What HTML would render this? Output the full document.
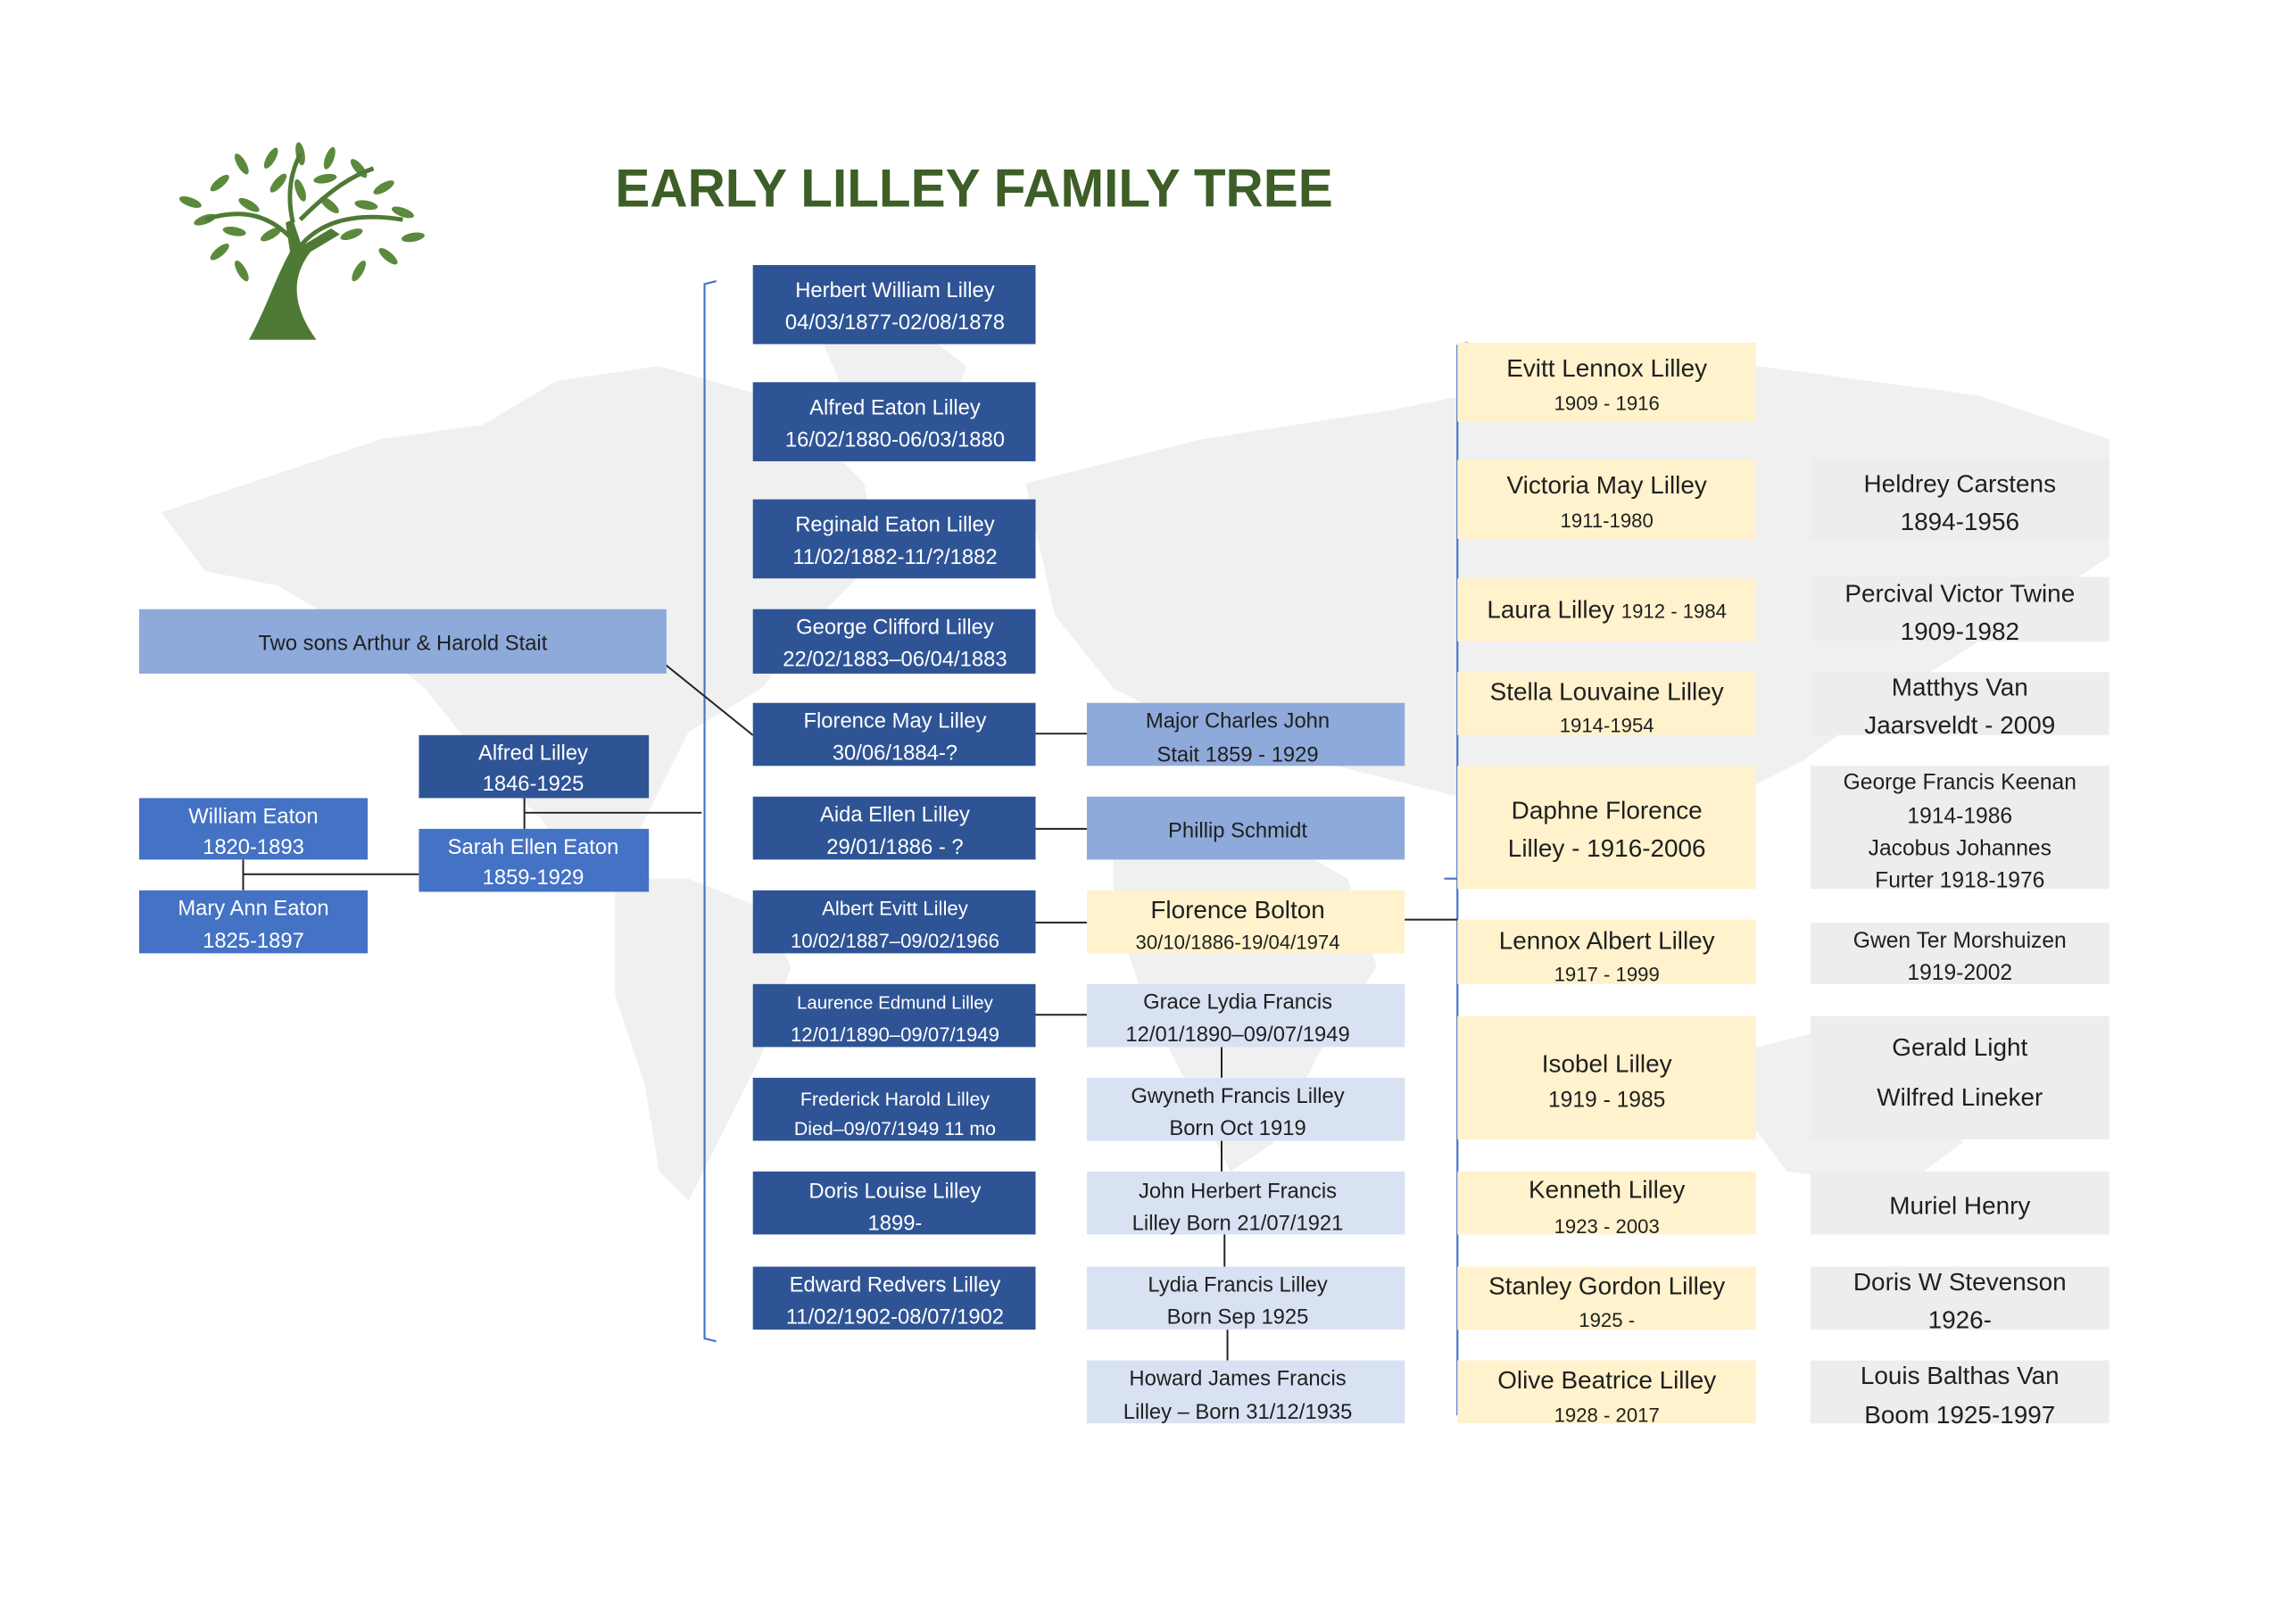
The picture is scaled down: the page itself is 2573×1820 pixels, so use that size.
<!DOCTYPE html>
<html><head><meta charset="utf-8"><style>
html,body{margin:0;padding:0;background:#fff;}
svg{display:block;}
text{font-family:"Liberation Sans",sans-serif;text-anchor:middle;}
.w{fill:#fff;font-size:14.5px;}
.d{fill:#1f1f1f;font-size:14.5px;}
.y{fill:#1f1f1f;font-size:17px;}
.ys{fill:#1f1f1f;font-size:13.5px;}
.g{fill:#1f1f1f;font-size:17px;}
.gs{fill:#1f1f1f;font-size:15px;}
</style></head><body>
<svg width="2573" height="1820" viewBox="0 0 1567.5 1109" preserveAspectRatio="none" xmlns="http://www.w3.org/2000/svg">
<rect width="1568" height="1109" fill="#fff"/>
<!-- map background -->
<g fill="#f0f0f0">
<path d="M110 350 L200 320 L260 300 L330 290 L380 260 L450 250 L520 270 L560 300 L590 330 L600 380 L560 420 L520 470 L470 500 L450 540 L430 580 L400 600 L370 560 L330 520 L290 470 L240 430 L190 400 L140 390 Z"/>
<path d="M420 600 L470 600 L520 620 L540 660 L520 720 L490 780 L470 820 L450 800 L440 740 L420 680 Z"/>
<path d="M560 230 L620 220 L660 250 L640 300 L590 300 Z"/>
<path d="M700 330 L820 300 L950 280 L1050 260 L1200 250 L1350 270 L1440 300 L1440 380 L1380 420 L1300 470 L1230 520 L1150 560 L1060 560 L980 540 L900 520 L820 500 L760 470 L720 420 Z"/>
<path d="M760 560 L850 560 L920 600 L940 660 L900 720 L870 780 L840 800 L810 740 L780 680 L760 620 Z"/>
<path d="M1180 720 L1260 700 L1320 720 L1340 780 L1300 810 L1220 800 L1190 760 Z"/>
</g>
<!-- tree -->
<g fill="#4f7a35">
<path d="M170 232 L216 232 C200 210 198 190 212 172 L232 160 L226 156 L206 168 L200 150 L195 152 L198 172 C188 190 182 210 170 232 Z"/>
</g>
<g fill="#5b8a3c">
<ellipse cx="140" cy="150" rx="8" ry="3" transform="rotate(-20 140 150)"/>
<ellipse cx="130" cy="138" rx="8" ry="3" transform="rotate(20 130 138)"/>
<ellipse cx="150" cy="125" rx="8" ry="3" transform="rotate(-40 150 125)"/>
<ellipse cx="165" cy="112" rx="8" ry="3" transform="rotate(60 165 112)"/>
<ellipse cx="185" cy="108" rx="8" ry="3" transform="rotate(-60 185 108)"/>
<ellipse cx="205" cy="105" rx="8" ry="3" transform="rotate(80 205 105)"/>
<ellipse cx="225" cy="108" rx="8" ry="3" transform="rotate(-70 225 108)"/>
<ellipse cx="245" cy="115" rx="8" ry="3" transform="rotate(50 245 115)"/>
<ellipse cx="262" cy="128" rx="8" ry="3" transform="rotate(-30 262 128)"/>
<ellipse cx="275" cy="145" rx="8" ry="3" transform="rotate(20 275 145)"/>
<ellipse cx="282" cy="162" rx="8" ry="3" transform="rotate(-10 282 162)"/>
<ellipse cx="265" cy="175" rx="8" ry="3" transform="rotate(40 265 175)"/>
<ellipse cx="150" cy="172" rx="8" ry="3" transform="rotate(-40 150 172)"/>
<ellipse cx="165" cy="185" rx="8" ry="3" transform="rotate(60 165 185)"/>
<ellipse cx="245" cy="185" rx="8" ry="3" transform="rotate(-60 245 185)"/>
<ellipse cx="170" cy="140" rx="8" ry="3" transform="rotate(30 170 140)"/>
<ellipse cx="185" cy="160" rx="8" ry="3" transform="rotate(-30 185 160)"/>
<ellipse cx="225" cy="140" rx="8" ry="3" transform="rotate(40 225 140)"/>
<ellipse cx="240" cy="160" rx="8" ry="3" transform="rotate(-20 240 160)"/>
<ellipse cx="205" cy="130" rx="8" ry="3" transform="rotate(70 205 130)"/>
<ellipse cx="190" cy="125" rx="8" ry="3" transform="rotate(-50 190 125)"/>
<ellipse cx="250" cy="140" rx="8" ry="3" transform="rotate(10 250 140)"/>
<ellipse cx="160" cy="158" rx="8" ry="3" transform="rotate(10 160 158)"/>
<ellipse cx="222" cy="122" rx="8" ry="3" transform="rotate(-10 222 122)"/>
</g>
<g stroke="#4f7a35" stroke-width="3" fill="none">
<path d="M205 170 C190 150 170 140 140 150 M205 168 C220 150 245 145 275 150 M200 152 C195 130 200 115 205 105 M205 150 C225 130 240 120 255 115"/>
</g>
<!-- title -->
<text x="665" y="141" textLength="490" lengthAdjust="spacingAndGlyphs" style="font-size:37px;font-weight:bold;fill:#3d5e27;">EARLY LILLEY FAMILY TREE</text>

<!-- connectors -->
<g stroke="#4472c4" stroke-width="1.3" fill="none">
<path d="M489 192 L481 194 L481 914 L489 916"/>
<path d="M1002 234 L995 236 L995 966 L1002 968"/>
<path d="M986 600 L995 600"/>
</g>
<g stroke="#222" stroke-width="1.2" fill="none">
<path d="M447 448 L514 502"/>
<path d="M358 545 L358 566 M358 555 L479 555"/>
<path d="M166 587 L166 608 M166 597 L286 597"/>
<path d="M707 501 L742 501 M707 566 L742 566 M707 630 L742 630 M707 693 L742 693 M959 628 L995 628"/>
<path d="M834 715 L834 736 M834 779 L834 800 M836 843 L836 865 M838 908 L838 929"/>
</g>

<!-- left side -->
<rect x="95" y="416" width="360" height="44" fill="#8eaadb"/>
<text class="d" x="275" y="444">Two sons Arthur &amp; Harold Stait</text>
<rect x="286" y="502" width="157" height="43" fill="#2f5496"/>
<text class="w" x="364" y="519">Alfred Lilley</text><text class="w" x="364" y="540">1846-1925</text>
<rect x="286" y="566" width="157" height="43" fill="#4472c4"/>
<text class="w" x="364" y="583">Sarah Ellen Eaton</text><text class="w" x="364" y="604">1859-1929</text>
<rect x="95" y="545" width="156" height="42" fill="#4472c4"/>
<text class="w" x="173" y="562">William Eaton</text><text class="w" x="173" y="583">1820-1893</text>
<rect x="95" y="608" width="156" height="43" fill="#4472c4"/>
<text class="w" x="173" y="625">Mary Ann Eaton</text><text class="w" x="173" y="647">1825-1897</text>

<!-- column 1 -->
<g fill="#2f5496">
<rect x="514" y="181" width="193" height="54"/>
<rect x="514" y="261" width="193" height="54"/>
<rect x="514" y="341" width="193" height="54"/>
<rect x="514" y="416" width="193" height="44"/>
<rect x="514" y="480" width="193" height="43"/>
<rect x="514" y="544" width="193" height="43"/>
<rect x="514" y="608" width="193" height="43"/>
<rect x="514" y="672" width="193" height="43"/>
<rect x="514" y="736" width="193" height="43"/>
<rect x="514" y="800" width="193" height="43"/>
<rect x="514" y="865" width="193" height="43"/>
</g>
<text class="w" x="611" y="203">Herbert William Lilley</text><text class="w" x="611" y="225">04/03/1877-02/08/1878</text>
<text class="w" x="611" y="283">Alfred Eaton  Lilley</text><text class="w" x="611" y="305">16/02/1880-06/03/1880</text>
<text class="w" x="611" y="363">Reginald Eaton Lilley</text><text class="w" x="611" y="385">11/02/1882-11/?/1882</text>
<text class="w" x="611" y="433">George Clifford Lilley</text><text class="w" x="611" y="455">22/02/1883–06/04/1883</text>
<text class="w" x="611" y="497">Florence May Lilley</text><text class="w" x="611" y="519">30/06/1884-?</text>
<text class="w" x="611" y="561">Aida Ellen Lilley</text><text class="w" x="611" y="583">29/01/1886 - ?</text>
<text class="w" x="611" y="625" style="font-size:13.5px">Albert Evitt Lilley</text><text class="w" x="611" y="647" style="font-size:13.5px">10/02/1887–09/02/1966</text>
<text class="w" x="611" y="689" style="font-size:12.5px">Laurence Edmund Lilley</text><text class="w" x="611" y="711" style="font-size:13.5px">12/01/1890–09/07/1949</text>
<text class="w" x="611" y="755" style="font-size:13px">Frederick Harold Lilley</text><text class="w" x="611" y="775" style="font-size:13px">Died–09/07/1949 11 mo</text>
<text class="w" x="611" y="818">Doris Louise Lilley</text><text class="w" x="611" y="840">1899-</text>
<text class="w" x="611" y="882">Edward Redvers Lilley</text><text class="w" x="611" y="904">11/02/1902-08/07/1902</text>

<!-- column 2 -->
<rect x="742" y="480" width="217" height="43" fill="#8eaadb"/>
<rect x="742" y="544" width="217" height="43" fill="#8eaadb"/>
<rect x="742" y="608" width="217" height="43" fill="#fff2cc"/>
<g fill="#d9e2f3">
<rect x="742" y="672" width="217" height="43"/>
<rect x="742" y="736" width="217" height="43"/>
<rect x="742" y="800" width="217" height="43"/>
<rect x="742" y="865" width="217" height="43"/>
<rect x="742" y="929" width="217" height="43"/>
</g>
<text class="d" x="845" y="497">Major Charles John</text><text class="d" x="845" y="520">Stait    1859 - 1929</text>
<text class="d" x="845" y="572">Phillip Schmidt</text>
<text class="d" x="845" y="627" style="font-size:17px">Florence Bolton</text><text class="d" x="845" y="648" style="font-size:13.5px">30/10/1886-19/04/1974</text>
<text class="d" x="845" y="689">Grace Lydia Francis</text><text class="d" x="845" y="711">12/01/1890–09/07/1949</text>
<text class="d" x="845" y="753">Gwyneth Francis Lilley</text><text class="d" x="845" y="775">Born Oct 1919</text>
<text class="d" x="845" y="818">John Herbert Francis</text><text class="d" x="845" y="840">Lilley  Born 21/07/1921</text>
<text class="d" x="845" y="882">Lydia Francis Lilley</text><text class="d" x="845" y="904">Born Sep 1925</text>
<text class="d" x="845" y="946">Howard James Francis</text><text class="d" x="845" y="969">Lilley – Born 31/12/1935</text>

<!-- column 3 -->
<g fill="#fff2cc">
<rect x="995" y="234" width="204" height="54"/>
<rect x="995" y="314" width="204" height="54"/>
<rect x="995" y="395" width="204" height="43"/>
<rect x="995" y="459" width="204" height="43"/>
<rect x="995" y="523" width="204" height="84"/>
<rect x="995" y="628" width="204" height="44"/>
<rect x="995" y="694" width="204" height="84"/>
<rect x="995" y="800" width="204" height="43"/>
<rect x="995" y="865" width="204" height="43"/>
<rect x="995" y="929" width="204" height="43"/>
</g>
<text class="y" x="1097" y="257">Evitt Lennox Lilley</text><text class="ys" x="1097" y="280">1909 - 1916</text>
<text class="y" x="1097" y="337">Victoria May Lilley</text><text class="ys" x="1097" y="360">1911-1980</text>
<text class="y" x="1097" y="422">Laura Lilley <tspan style="font-size:13.5px">1912 - 1984</tspan></text>
<text class="y" x="1097" y="478">Stella Louvaine Lilley</text><text class="ys" x="1097" y="500">1914-1954</text>
<text class="y" x="1097" y="559">Daphne Florence</text><text class="y" x="1097" y="585">Lilley - 1916-2006</text>
<text class="y" x="1097" y="648">Lennox Albert Lilley</text><text class="ys" x="1097" y="670">1917 - 1999</text>
<text class="y" x="1097" y="732">Isobel Lilley</text><text class="gs" x="1097" y="756">1919 - 1985</text>
<text class="y" x="1097" y="818">Kenneth Lilley</text><text class="ys" x="1097" y="842">1923 - 2003</text>
<text class="y" x="1097" y="884">Stanley Gordon Lilley</text><text class="ys" x="1097" y="906">1925 -</text>
<text class="y" x="1097" y="948">Olive Beatrice Lilley</text><text class="ys" x="1097" y="971">1928 - 2017</text>

<!-- column 4 -->
<g fill="#ededed">
<rect x="1236" y="313" width="204" height="55"/>
<rect x="1236" y="394" width="204" height="44"/>
<rect x="1236" y="459" width="204" height="43"/>
<rect x="1236" y="523" width="204" height="84"/>
<rect x="1236" y="630" width="204" height="42"/>
<rect x="1236" y="694" width="204" height="84"/>
<rect x="1236" y="800" width="204" height="43"/>
<rect x="1236" y="865" width="204" height="43"/>
<rect x="1236" y="929" width="204" height="43"/>
</g>
<text class="g" x="1338" y="336">Heldrey Carstens</text><text class="g" x="1338" y="362">1894-1956</text>
<text class="g" x="1338" y="411">Percival Victor Twine</text><text class="g" x="1338" y="437">1909-1982</text>
<text class="g" x="1338" y="475">Matthys Van</text><text class="g" x="1338" y="501">Jaarsveldt - 2009</text>
<text class="gs" x="1338" y="539">George Francis Keenan</text><text class="gs" x="1338" y="562">1914-1986</text>
<text class="gs" x="1338" y="584">Jacobus Johannes</text><text class="gs" x="1338" y="606">Furter 1918-1976</text>
<text class="gs" x="1338" y="647">Gwen Ter Morshuizen</text><text class="gs" x="1338" y="669">1919-2002</text>
<text class="g" x="1338" y="721">Gerald Light</text><text class="g" x="1338" y="755">Wilfred Lineker</text>
<text class="g" x="1338" y="829">Muriel Henry</text>
<text class="g" x="1338" y="881">Doris W Stevenson</text><text class="g" x="1338" y="907">1926-</text>
<text class="g" x="1338" y="945">Louis Balthas Van</text><text class="g" x="1338" y="972">Boom 1925-1997</text>
</svg>
</body></html>
